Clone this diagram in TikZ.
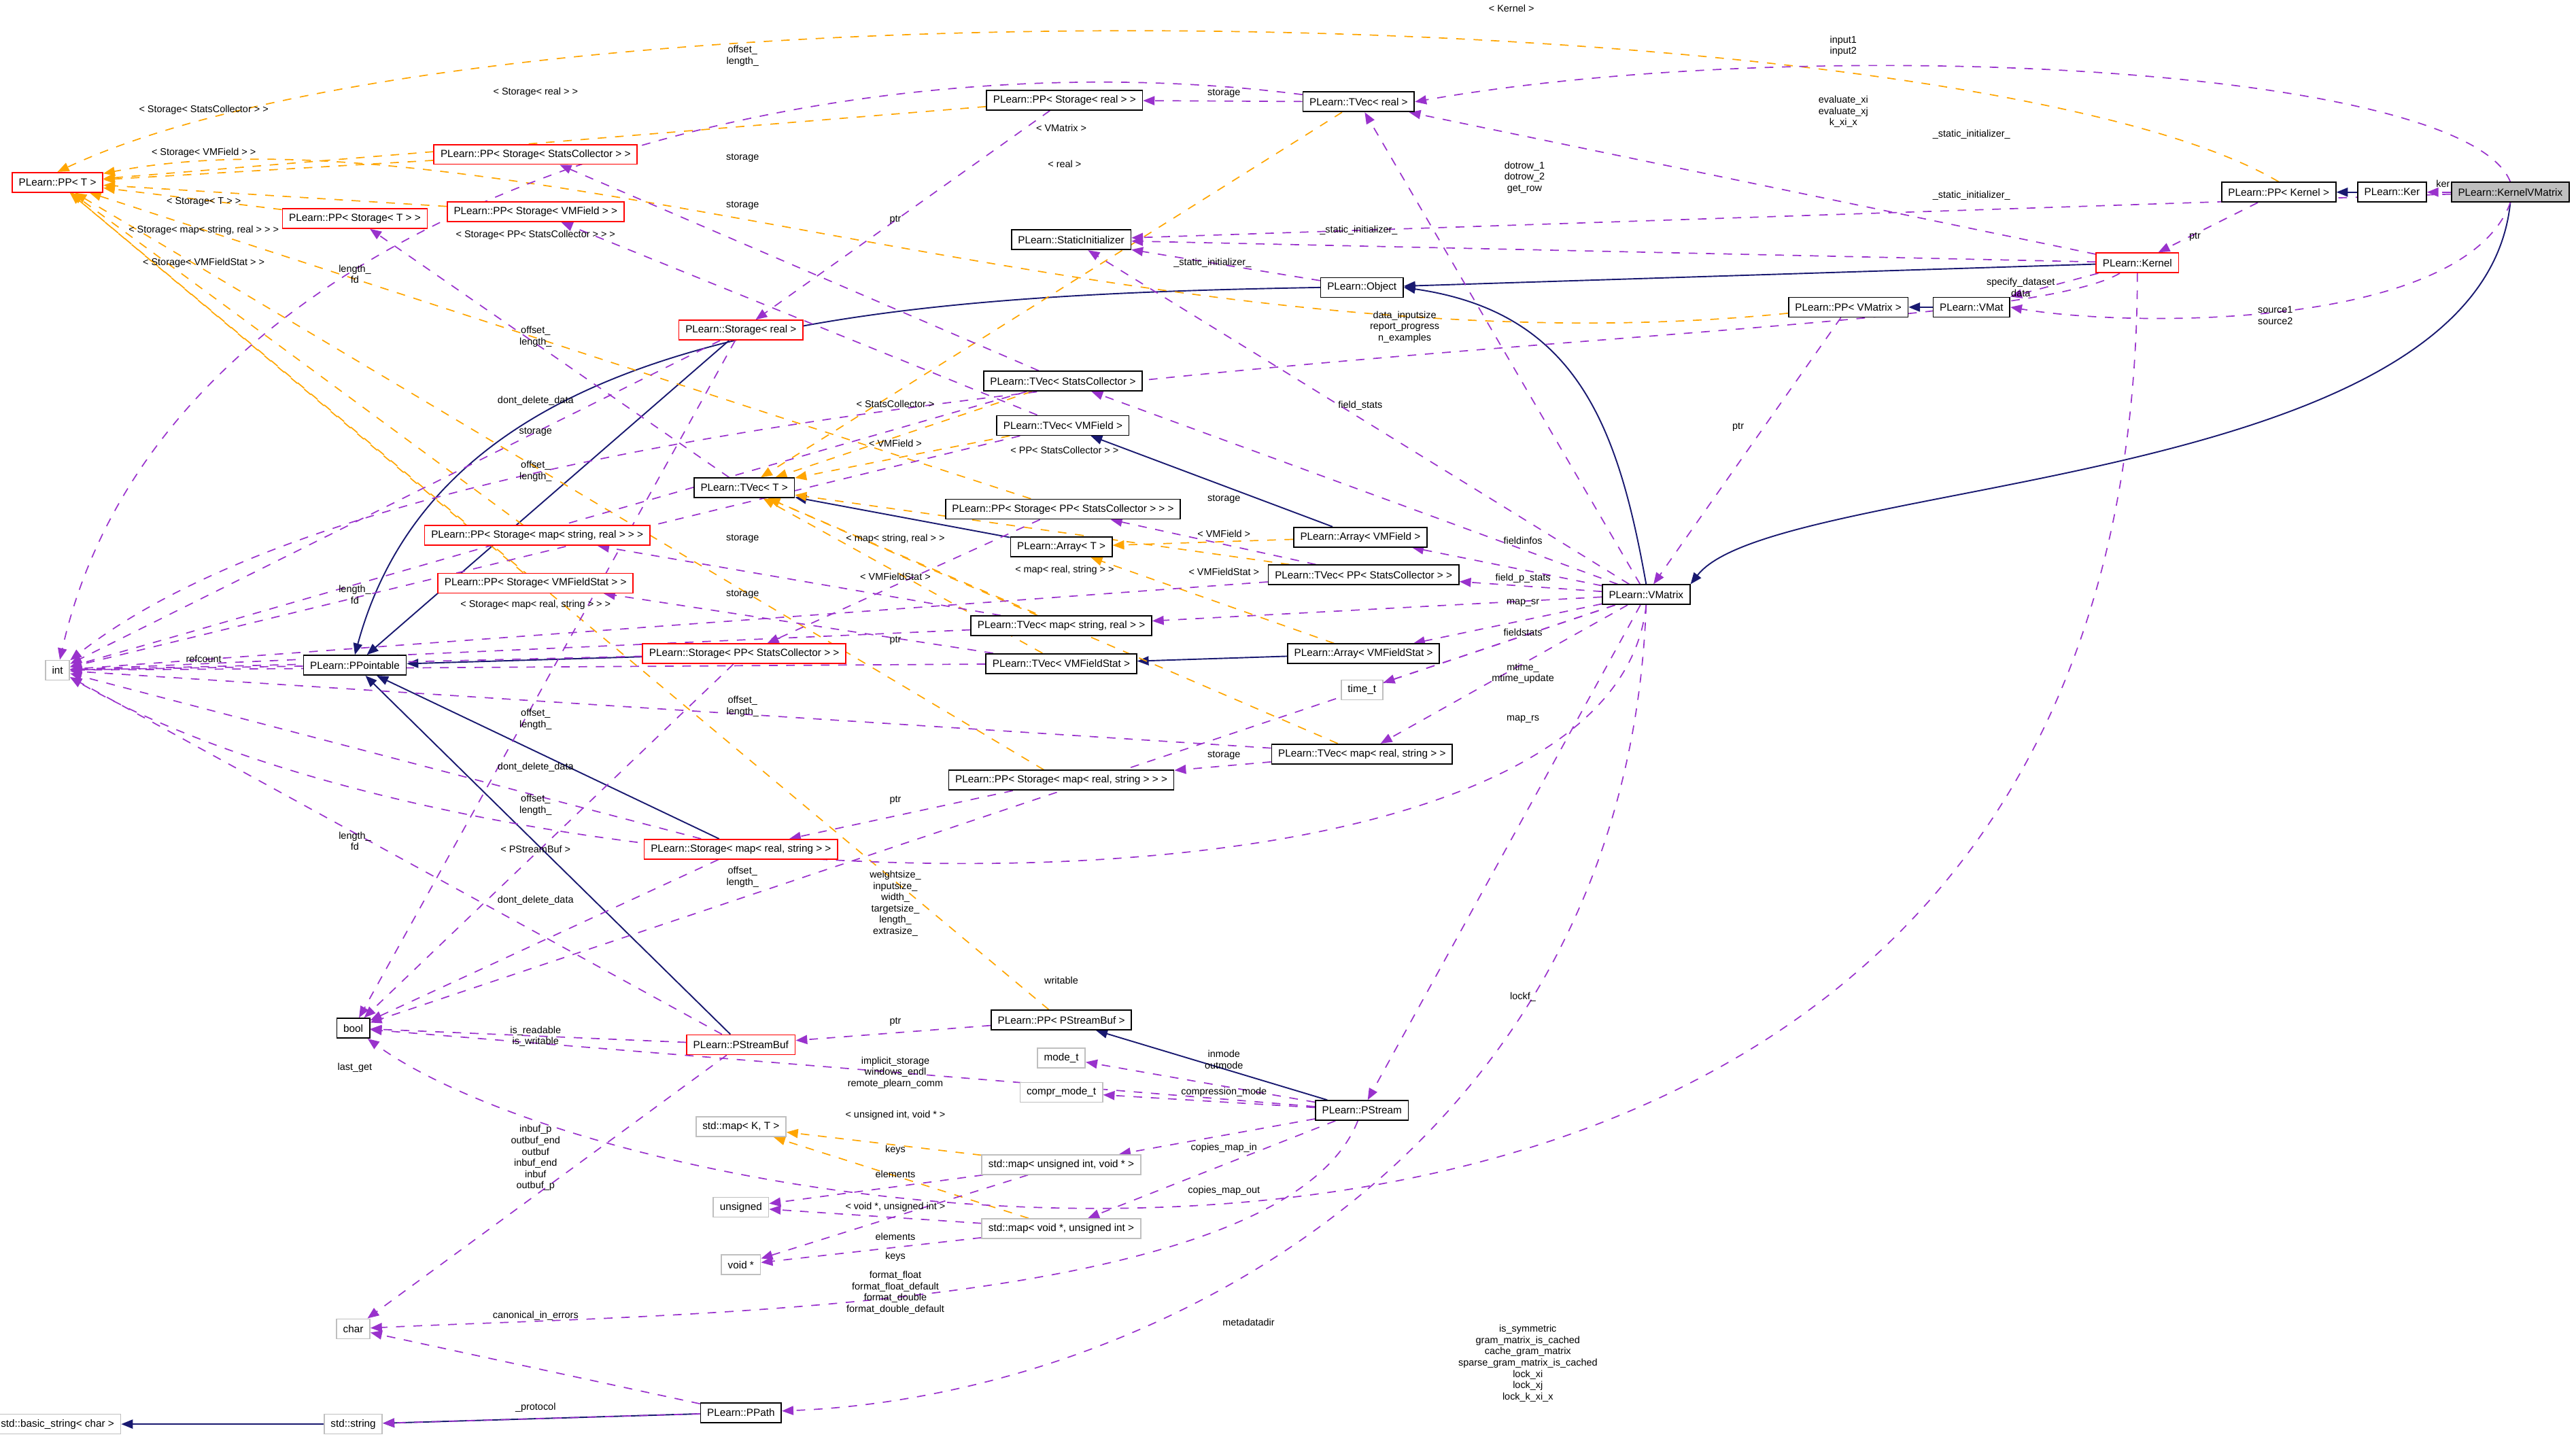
\documentclass[tikz,border=0pt]{standalone}
\usepackage{fontspec}
\setmainfont{Liberation Sans}
\usetikzlibrary{arrows.meta,backgrounds}
\definecolor{navy}{RGB}{25,25,112}
\definecolor{usecol}{RGB}{153,50,204}
\definecolor{tplcol}{RGB}{255,165,0}
\definecolor{boxgray}{RGB}{191,191,191}
\tikzset{
  cls/.style={draw=black, fill=white, line width=0.4pt, minimum height=0.24cm, inner xsep=0.08cm, inner ysep=0pt, font=\fontsize{3.6}{4}\selectfont},
  redcls/.style={cls, draw=red},
  extcls/.style={cls, draw=boxgray},
  lbl/.style={font=\fontsize{3.4}{3.9}\selectfont, align=center, inner sep=0pt},
  inh/.style={navy, line width=0.45pt, -{Triangle[length=1.4mm,width=1.1mm]}},
  use/.style={usecol, dashed, line width=0.4pt, -{Triangle[length=1.4mm,width=1.1mm]}},
  tpl/.style={tplcol, dashed, line width=0.4pt, -{Triangle[length=1.4mm,width=1.1mm]}}
}
\begin{document}
\begin{tikzpicture}[x=0.02cm, y=-0.02cm]
\useasboundingbox (0,0) rectangle (1568,876);
% classes
\node[cls, fill=boxgray] (kvm) at (1528,117) {PLearn::KernelVMatrix};
\node[cls] (ker) at (1456,117) {PLearn::Ker};
\node[cls] (ppkernel) at (1387,117) {PLearn::PP< Kernel >};
\node[redcls] (kernel) at (1301,160) {PLearn::Kernel};
\node[cls] (vmat) at (1200,187) {PLearn::VMat};
\node[cls] (ppvmatrix) at (1125,187) {PLearn::PP< VMatrix >};
\node[cls] (statinit) at (652,146) {PLearn::StaticInitializer};
\node[cls] (object) at (829,175) {PLearn::Object};
\node[cls] (tvreal) at (827,62) {PLearn::TVec< real >};
\node[cls] (ppsreal) at (648,61) {PLearn::PP< Storage< real > >};
\node[redcls] (ppt) at (35,111) {PLearn::PP< T >};
\node[redcls] (ppsstat) at (326,94) {PLearn::PP< Storage< StatsCollector > >};
\node[redcls] (ppst) at (216,133) {PLearn::PP< Storage< T > >};
\node[redcls] (ppsvmf) at (326,129) {PLearn::PP< Storage< VMField > >};
\node[redcls] (sreal) at (451,201) {PLearn::Storage< real >};
\node[cls] (tvstat) at (647,232) {PLearn::TVec< StatsCollector >};
\node[cls] (tvvmf) at (647,259) {PLearn::TVec< VMField >};
\node[cls] (tvt) at (453,297) {PLearn::TVec< T >};
\node[cls] (ppsppstat) at (647,310) {PLearn::PP< Storage< PP< StatsCollector > > >};
\node[cls] (arrt) at (646,333) {PLearn::Array< T >};
\node[redcls] (ppssr) at (327,326) {PLearn::PP< Storage< map< string, real > > >};
\node[redcls] (ppsvmfs) at (326,355) {PLearn::PP< Storage< VMFieldStat > >};
\node[cls] (arrvmf) at (828,327) {PLearn::Array< VMField >};
\node[cls] (tvppstat) at (830,350) {PLearn::TVec< PP< StatsCollector > >};
\node[cls] (vmatrix) at (1002,362) {PLearn::VMatrix};
\node[cls] (tvsr) at (646,381) {PLearn::TVec< map< string, real > >};
\node[redcls] (sppstat) at (453,398) {PLearn::Storage< PP< StatsCollector > >};
\node[cls] (pptable) at (216,405) {PLearn::PPointable};
\node[extcls] (int) at (35,408) {int};
\node[cls] (tvvmfs) at (646,404) {PLearn::TVec< VMFieldStat >};
\node[cls] (arrvmfs) at (830,398) {PLearn::Array< VMFieldStat >};
\node[extcls] (timet) at (829,420) {time\_t};
\node[cls] (tvrs) at (829,459) {PLearn::TVec< map< real, string > >};
\node[cls] (ppsrs) at (646,475) {PLearn::PP< Storage< map< real, string > > >};
\node[redcls] (srs) at (451,517) {PLearn::Storage< map< real, string > >};
\node[cls] (bool) at (215,626) {bool};
\node[redcls] (psbuf) at (451,636) {PLearn::PStreamBuf};
\node[cls] (pppsbuf) at (646,621) {PLearn::PP< PStreamBuf >};
\node[extcls] (modet) at (646,644) {mode\_t};
\node[extcls] (comprt) at (646,665) {compr\_mode\_t};
\node[cls] (pstream) at (829,676) {PLearn::PStream};
\node[extcls] (mapkt) at (451,686) {std::map< K, T >};
\node[extcls] (mapuv) at (646,709) {std::map< unsigned int, void * >};
\node[extcls] (unsigned) at (451,735) {unsigned};
\node[extcls] (mapvu) at (646,748) {std::map< void *, unsigned int >};
\node[extcls] (voidp) at (451,770) {void *};
\node[extcls] (char) at (215,809) {char};
\node[cls] (ppath) at (451,860) {PLearn::PPath};
\node[extcls] (stdstr) at (215,867) {std::string};
\node[extcls] (bstr) at (35,867) {std::basic\_string< char >};

\begin{scope}[on background layer]
% inheritance
\draw[inh] (ker) -- (ppkernel);
\draw[inh] (kvm.south) .. controls (1510,300) and (1080,290) .. (vmatrix.north east);
\draw[inh] (kernel) -- (object);
\draw[inh] (vmat) -- (ppvmatrix);
\draw[inh] (vmatrix.north) .. controls (985,260) and (960,190) .. (object.east);
\draw[inh] (arrvmf) -- (tvvmf);
\draw[inh] (arrvmfs) -- (tvvmfs);
\draw[inh] (arrt) -- (tvt);
\draw[inh] (object.west) .. controls (520,180) and (270,200) .. (pptable.north);
\draw[inh] (sreal) -- (pptable);
\draw[inh] (sppstat) -- (pptable);
\draw[inh] (srs) -- (pptable);
\draw[inh] (psbuf) -- (pptable);
\draw[inh] (pstream) -- (pppsbuf);
\draw[inh] (ppath) -- (stdstr);
\draw[inh] (stdstr) -- (bstr);

% template instances
\draw[tpl] (ppkernel.north) .. controls (1200,0) and (300,-20) .. (ppt.north);
\draw[tpl] (tvreal) -- (tvt);
\draw[tpl] (ppsreal) -- (ppt);
\draw[tpl] (ppsstat) -- (ppt);
\draw[tpl] (ppsvmf) -- (ppt);
\draw[tpl] (ppst) -- (ppt);
\draw[tpl] (ppssr) -- (ppt);
\draw[tpl] (ppsvmfs) -- (ppt);
\draw[tpl] (ppvmatrix) .. controls (700,230) and (300,60) .. (ppt);
\draw[tpl] (ppsppstat) -- (ppt);
\draw[tpl] (ppsrs) -- (ppt);
\draw[tpl] (pppsbuf) -- (ppt);
\draw[tpl] (tvstat) -- (tvt);
\draw[tpl] (tvvmf) -- (tvt);
\draw[tpl] (tvppstat) -- (tvt);
\draw[tpl] (tvsr) -- (tvt);
\draw[tpl] (tvvmfs) -- (tvt);
\draw[tpl] (tvrs) -- (tvt);
\draw[tpl] (arrvmf) -- (arrt);
\draw[tpl] (arrvmfs) -- (arrt);
\draw[tpl] (mapuv) -- (mapkt);
\draw[tpl] (mapvu) -- (mapkt);

% usage
\draw[use] (kvm) -- (ker);
\draw[use] (kvm.north) .. controls (1500,40) and (1100,20) .. (tvreal.east);
\draw[use] (kernel) -- (tvreal);
\draw[use] (kvm) -- (statinit);
\draw[use] (kernel) -- (statinit);
\draw[use] (vmatrix) -- (statinit);
\draw[use] (object) -- (statinit);
\draw[use] (vmatrix) -- (tvreal);
\draw[use] (ppkernel) -- (kernel);
\draw[use] (kernel) -- (vmat);
\draw[use] (kvm.south) .. controls (1500,200) and (1300,200) .. (vmat.east);
\draw[use] (ppvmatrix) -- (vmatrix);
\draw[use] (kernel) .. controls (1200,220) and (300,200) .. (int);
\draw[use] (kernel.south) .. controls (1300,900) and (400,760) .. (bool);
\draw[use] (tvreal) -- (ppsreal);
\draw[use] (ppsreal) -- (sreal);
\draw[use] (tvreal) .. controls (500,20) and (100,120) .. (int);
\draw[use] (tvstat) -- (ppsstat);
\draw[use] (tvstat) -- (int);
\draw[use] (tvvmf) -- (ppsvmf);
\draw[use] (tvvmf) -- (int);
\draw[use] (tvt) -- (ppst);
\draw[use] (sreal) -- (int);
\draw[use] (sreal) -- (bool);
\draw[use] (vmatrix) -- (tvstat);
\draw[use] (vmatrix) -- (arrvmf);
\draw[use] (vmatrix) -- (tvppstat);
\draw[use] (vmatrix) -- (tvsr);
\draw[use] (vmatrix) -- (arrvmfs);
\draw[use] (vmatrix) -- (timet);
\draw[use] (vmatrix) -- (tvrs);
\draw[use] (vmatrix.south) .. controls (980,580) and (300,560) .. (int);
\draw[use] (vmatrix) -- (bool);
\draw[use] (vmatrix) -- (pstream);
\draw[use] (vmatrix.south) .. controls (990,700) and (700,850) .. (ppath);
\draw[use] (tvppstat) -- (ppsppstat);
\draw[use] (tvppstat) -- (int);
\draw[use] (ppsppstat) -- (sppstat);
\draw[use] (tvsr) -- (ppssr);
\draw[use] (tvsr) -- (int);
\draw[use] (tvvmfs) -- (ppsvmfs);
\draw[use] (tvvmfs) -- (int);
\draw[use] (tvrs) -- (ppsrs);
\draw[use] (tvrs) -- (int);
\draw[use] (ppsrs) -- (srs);
\draw[use] (srs) -- (int);
\draw[use] (srs) -- (bool);
\draw[use] (sppstat) -- (int);
\draw[use] (sppstat) -- (bool);
\draw[use] (pptable) -- (int);
\draw[use] (psbuf) -- (bool);
\draw[use] (psbuf) -- (int);
\draw[use] (psbuf) -- (char);
\draw[use] (pppsbuf) -- (psbuf);
\draw[use] (pstream) -- (bool);
\draw[use] (pstream) -- (modet);
\draw[use] (pstream) -- (comprt);
\draw[use] (pstream) -- (mapuv);
\draw[use] (pstream) -- (mapvu);
\draw[use] (pstream) .. controls (780,800) and (400,800) .. (char);
\draw[use] (mapuv) -- (unsigned);
\draw[use] (mapuv) -- (voidp);
\draw[use] (mapvu) -- (unsigned);
\draw[use] (mapvu) -- (voidp);
\draw[use] (ppath) -- (char);
\draw[use] (ppath) -- (stdstr);
\end{scope}

% labels
\node[lbl] (l1) at (920,5) {< Kernel >};
\node[lbl] (l2) at (648,100) {< real >};
\node[lbl] (l3) at (326,56) {< Storage< real > >};
\node[lbl] (l4) at (124,67) {< Storage< StatsCollector > >};
\node[lbl] (l5) at (124,93) {< Storage< VMField > >};
\node[lbl] (l6) at (124,123) {< Storage< T > >};
\node[lbl] (l7) at (124,140) {< Storage< map< string, real > > >};
\node[lbl] (l8) at (124,160) {< Storage< VMFieldStat > >};
\node[lbl] (l9) at (646,78) {< VMatrix >};
\node[lbl] (l10) at (326,143) {< Storage< PP< StatsCollector > > >};
\node[lbl] (l11) at (326,368) {< Storage< map< real, string > > >};
\node[lbl] (l12) at (326,517) {< PStreamBuf >};
\node[lbl] (l13) at (545,246) {< StatsCollector >};
\node[lbl] (l14) at (545,270) {< VMField >};
\node[lbl] (l15) at (648,274) {< PP< StatsCollector > >};
\node[lbl] (l16) at (545,328) {< map< string, real > >};
\node[lbl] (l17) at (545,351) {< VMFieldStat >};
\node[lbl] (l18) at (648,347) {< map< real, string > >};
\node[lbl] (l19) at (745,325) {< VMField >};
\node[lbl] (l20) at (745,348) {< VMFieldStat >};
\node[lbl] (l21) at (545,679) {< unsigned int, void * >};
\node[lbl] (l22) at (545,735) {< void *, unsigned int >};
\node[lbl] (u1) at (1487,112) {ker};
\node[lbl] (u2) at (1122,28) {input1\\input2};
\node[lbl] (u3) at (1122,68) {evaluate\_xi\\evaluate\_xj\\k\_xi\_x};
\node[lbl] (u4) at (1200,82) {\_static\_initializer\_};
\node[lbl] (u5) at (1200,119) {\_static\_initializer\_};
\node[lbl] (u6) at (827,140) {\_static\_initializer\_};
\node[lbl] (u7) at (738,160) {\_static\_initializer\_};
\node[lbl] (u8) at (928,108) {dotrow\_1\\dotrow\_2\\get\_row};
\node[lbl] (u9) at (1336,144) {ptr};
\node[lbl] (u10) at (1230,175) {specify\_dataset\\data};
\node[lbl] (u11) at (1385,192) {source1\\source2};
\node[lbl] (u12) at (1058,260) {ptr};
\node[lbl] (u13) at (855,199) {data\_inputsize\\report\_progress\\n\_examples};
\node[lbl] (u14) at (930,830) {is\_symmetric\\gram\_matrix\_is\_cached\\cache\_gram\_matrix\\sparse\_gram\_matrix\_is\_cached\\lock\_xi\\lock\_xj\\lock\_k\_xi\_x};
\node[lbl] (u15) at (745,57) {storage};
\node[lbl] (u16) at (545,134) {ptr};
\node[lbl] (u17) at (452,34) {offset\_\\length\_};
\node[lbl] (u18) at (452,96) {storage};
\node[lbl] (u19) at (326,205) {offset\_\\length\_};
\node[lbl] (u20) at (452,125) {storage};
\node[lbl] (u21) at (326,287) {offset\_\\length\_};
\node[lbl] (u22) at (326,263) {storage};
\node[lbl] (u23) at (216,167) {length\_\\fd};
\node[lbl] (u24) at (326,244) {dont\_delete\_data};
\node[lbl] (u25) at (828,247) {field\_stats};
\node[lbl] (u26) at (927,329) {fieldinfos};
\node[lbl] (u27) at (927,352) {field\_p\_stats};
\node[lbl] (u28) at (927,367) {map\_sr};
\node[lbl] (u29) at (927,385) {fieldstats};
\node[lbl] (u30) at (927,410) {mtime\_\\mtime\_update};
\node[lbl] (u31) at (927,438) {map\_rs};
\node[lbl] (u32) at (545,550) {weightsize\_\\inputsize\_\\width\_\\targetsize\_\\length\_\\extrasize\_};
\node[lbl] (u33) at (646,597) {writable};
\node[lbl] (u34) at (927,607) {lockf\_};
\node[lbl] (u35) at (760,805) {metadatadir};
\node[lbl] (u36) at (745,304) {storage};
\node[lbl] (u37) at (326,438) {offset\_\\length\_};
\node[lbl] (u38) at (545,390) {ptr};
\node[lbl] (u39) at (452,328) {storage};
\node[lbl] (u40) at (452,430) {offset\_\\length\_};
\node[lbl] (u41) at (452,362) {storage};
\node[lbl] (u42) at (326,490) {offset\_\\length\_};
\node[lbl] (u43) at (745,460) {storage};
\node[lbl] (u44) at (452,534) {offset\_\\length\_};
\node[lbl] (u45) at (545,487) {ptr};
\node[lbl] (u46) at (216,512) {length\_\\fd};
\node[lbl] (u47) at (326,548) {dont\_delete\_data};
\node[lbl] (u48) at (216,362) {length\_\\fd};
\node[lbl] (u49) at (326,467) {dont\_delete\_data};
\node[lbl] (u50) at (124,401) {refcount};
\node[lbl] (u51) at (326,631) {is\_readable\\is\_writable};
\node[lbl] (u52) at (216,650) {last\_get};
\node[lbl] (u53) at (326,705) {inbuf\_p\\outbuf\_end\\outbuf\\inbuf\_end\\inbuf\\outbuf\_p};
\node[lbl] (u54) at (545,622) {ptr};
\node[lbl] (u55) at (545,653) {implicit\_storage\\windows\_endl\\remote\_plearn\_comm};
\node[lbl] (u56) at (745,645) {inmode\\outmode};
\node[lbl] (u57) at (745,665) {compression\_mode};
\node[lbl] (u58) at (745,699) {copies\_map\_in};
\node[lbl] (u59) at (745,725) {copies\_map\_out};
\node[lbl] (u60) at (545,787) {format\_float\\format\_float\_default\\format\_double\\format\_double\_default};
\node[lbl] (u61) at (545,700) {keys};
\node[lbl] (u62) at (545,715) {elements};
\node[lbl] (u63) at (545,753) {elements};
\node[lbl] (u64) at (545,765) {keys};
\node[lbl] (u65) at (326,801) {canonical\_in\_errors};
\node[lbl] (u66) at (326,857) {\_protocol};
\end{tikzpicture}
\end{document}
